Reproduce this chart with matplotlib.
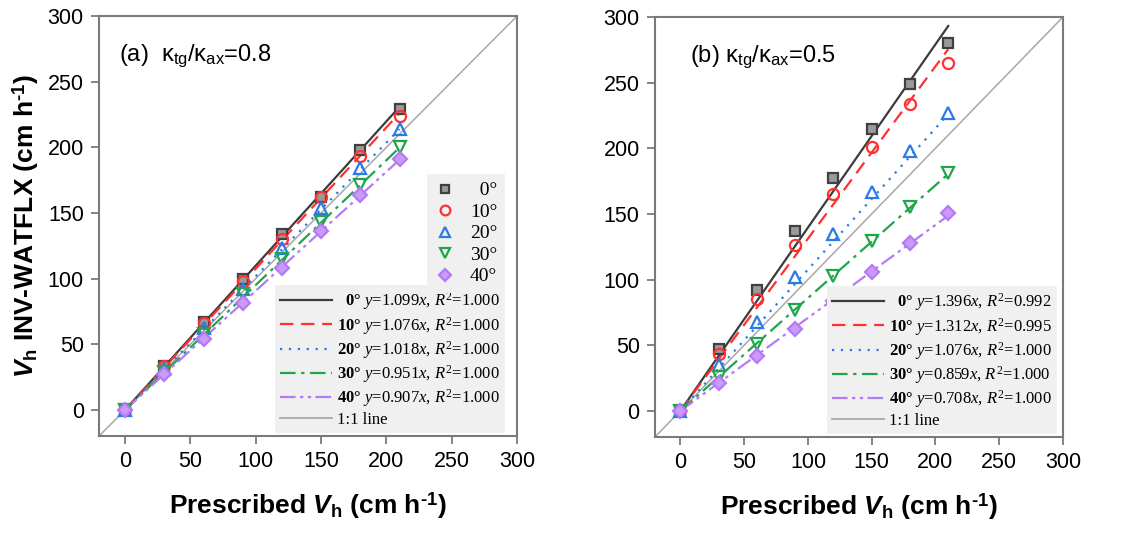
import matplotlib
matplotlib.use("Agg")
import matplotlib.pyplot as plt
import numpy as np
from matplotlib.lines import Line2D

plt.rcParams['mathtext.fontset'] = 'custom'
plt.rcParams['mathtext.rm'] = 'Liberation Serif'
plt.rcParams['mathtext.it'] = 'Liberation Serif:italic'
plt.rcParams['mathtext.bf'] = 'Liberation Serif:bold'
plt.rcParams['mathtext.sf'] = 'Liberation Sans'
plt.rcParams['mathtext.cal'] = 'Liberation Sans:bold'
plt.rcParams['mathtext.bfit'] = 'Liberation Sans:bold:italic'
plt.rcParams['font.family'] = 'Liberation Sans'

# ---------------- data ----------------
prescribed = [0, 30, 60, 90, 120, 150, 180, 210]
angles = ["0°", "10°", "20°", "30°", "40°"]

# panel (a) kappa_tg/kappa_ax = 0.8
a_0 = [0, 33, 67, 100, 134, 162, 198, 229]
a_10 = [0, 33, 66, 98, 130, 162, 193, 224]
a_20 = [0, 31, 62, 92, 123, 154, 184, 214]
a_30 = [0, 29, 58, 88, 115, 143, 171, 200]
a_40 = [0, 27, 54, 81, 108, 136, 164, 191]
a_slopes = [1.099, 1.076, 1.018, 0.951, 0.907]
a_r2 = ["1.000", "1.000", "1.000", "1.000", "1.000"]

# panel (b) kappa_tg/kappa_ax = 0.5
b_0 = [0, 47, 92, 137, 177, 215, 249, 280]
b_10 = [0, 43, 85, 126, 165, 201, 234, 265]
b_20 = [0, 35, 68, 102, 135, 167, 198, 227]
b_30 = [0, 26, 51, 77, 103, 129, 155, 181]
b_40 = [0, 21, 42, 62, 84, 106, 128, 151]
b_slopes = [1.396, 1.312, 1.076, 0.859, 0.708]
b_r2 = ["0.992", "0.995", "1.000", "1.000", "1.000"]

one_to_one = [-20, 300]
xticks = [0, 50, 100, 150, 200, 250, 300]
yticks = [0, 50, 100, 150, 200, 250, 300]

# ---------------- styles ----------------
line_colors = ['#3c3c3c', '#ff3030', '#2a7ae8', '#1fa64a', '#b57af5']
line_styles = ['-', (0, (6, 3.5)), (0, (1, 3)), (0, (7, 2.5, 1.5, 2.5)), (0, (7, 2, 1.5, 2, 1.5, 2))]
markers = ['s', 'o', '^', 'v', 'D']
m_edge = ['#404040', '#ff3030', '#2a7ae8', '#1fa64a', '#b57af5']
m_face = ['#9a9a9a', 'none', 'none', 'none', '#c99af7']
m_size = [7, 8, 8.5, 8.5, 7.5]

fig = plt.figure(figsize=(11.32, 5.58), dpi=100)
axA = fig.add_axes([0.0875, 0.2186, 0.3693, 0.7527])
axB = fig.add_axes([0.5786, 0.2168, 0.3604, 0.7527])

HY = '\u2010'

def draw(ax, series, slopes, r2, title, tx, marker_legend, leg_right):
    ax.plot(one_to_one, one_to_one, color='#a8a8a8', lw=1.1, zorder=1)
    xs = np.array([prescribed[0], prescribed[-1]], dtype=float)
    for i, s in enumerate(series):
        ax.plot(xs, slopes[i] * xs, color=line_colors[i], ls=line_styles[i], lw=1.6, zorder=2)
    for i, s in enumerate(series):
        ax.plot(prescribed, s, ls='none', marker=markers[i], ms=m_size[i],
                mec=m_edge[i], mfc=m_face[i], mew=1.6, zorder=3)
    ax.set_xlim(-20, 300)
    ax.set_ylim(-20, 300)
    ax.set_xticks(xticks)
    ax.set_yticks(yticks)
    ax.tick_params(direction='out', length=6, width=1.2, labelsize=15.5, color='#707070', pad=5)
    for sp in ax.spines.values():
        sp.set_color('#7a7a7a')
        sp.set_linewidth(1.5)
    ax.text(tx, 0.905, title, transform=ax.transAxes, fontsize=17, va='center', ha='left')
    ax.set_xlabel(r"Prescribed $\mathbfit{V}_\mathcal{h}$ (cm h$^\mathcal{" + HY + "1}$)",
                  fontsize=19, fontweight='bold', labelpad=13)

    handles = []
    labels = []
    for i in range(5):
        handles.append(Line2D([], [], color=line_colors[i], ls=line_styles[i], lw=1.6))
        ang = angles[i].replace('°', '')
        pad = '  ' if len(ang) == 1 else ''
        labels.append(pad + r"$\mathbf{" + ang + "°}$ $y$=" + f"{slopes[i]:.3f}" + r"$x$, $R^2$=" + r2[i])
    handles.append(Line2D([], [], color='#a8a8a8', lw=1.3))
    labels.append("1:1 line")
    leg = ax.legend(handles, labels, loc='lower right', bbox_to_anchor=(leg_right, 0.008),
                    prop={'family': 'Liberation Serif', 'size': 12}, handlelength=3.1,
                    handletextpad=0.3, labelspacing=0.14, borderpad=0.3, borderaxespad=0,
                    frameon=True, fancybox=False, framealpha=1)
    leg.get_frame().set_facecolor('#f0f0f0')
    leg.get_frame().set_edgecolor('none')
    if marker_legend:
        ax.add_artist(leg)
        mh = [Line2D([], [], ls='none', marker=markers[i], ms=m_size[i] - 1,
                     mec=m_edge[i], mfc=m_face[i], mew=1.6) for i in range(5)]
        ml = [('  ' if len(a) == 2 else '') + a for a in angles]
        leg2 = ax.legend(mh, ml, loc='lower right', bbox_to_anchor=(leg_right, 0.34),
                         prop={'family': 'Liberation Serif', 'size': 14}, handlelength=1.0,
                         handletextpad=0.8, labelspacing=0.2, borderpad=0.4, borderaxespad=0,
                         frameon=True, fancybox=False, framealpha=1)
        leg2.get_frame().set_facecolor('#f0f0f0')
        leg2.get_frame().set_edgecolor('none')

draw(axA, [a_0, a_10, a_20, a_30, a_40], a_slopes, a_r2,
     r"(a)  κ$_\mathsf{tg}$/κ$_\mathsf{ax}$=0.8", 0.048, True, 0.971)
draw(axB, [b_0, b_10, b_20, b_30, b_40], b_slopes, b_r2,
     r"(b) κ$_\mathsf{tg}$/κ$_\mathsf{ax}$=0.5", 0.086, False, 0.985)

axA.set_ylabel(r"$\mathbfit{V}_\mathcal{h}$ INV-WATFLX (cm h$^\mathcal{" + HY + "1}$)",
               fontsize=19, fontweight='bold', labelpad=5)

fig.savefig("out.png", dpi=100)
